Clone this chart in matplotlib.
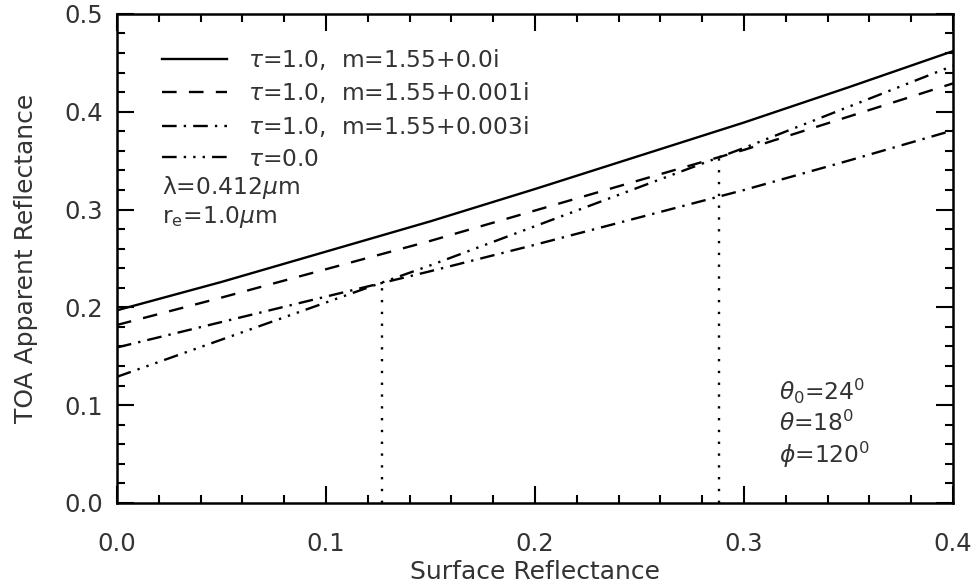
import numpy as np
import matplotlib
matplotlib.use("Agg")
import matplotlib.pyplot as plt

# surface reflectance grid and TOA apparent reflectance
surf = [0.0, 0.05, 0.1, 0.15, 0.2, 0.25, 0.3, 0.35, 0.4]
toa_m0 = [0.197, 0.226, 0.257, 0.288, 0.321, 0.355, 0.389, 0.425, 0.462]
toa_m001 = [0.182, 0.210, 0.239, 0.268, 0.299, 0.330, 0.361, 0.395, 0.429]
toa_m003 = [0.159, 0.185, 0.211, 0.237, 0.264, 0.292, 0.320, 0.350, 0.381]
toa_tau0 = [0.129, 0.167, 0.205, 0.243, 0.283, 0.323, 0.363, 0.405, 0.447]

# critical surface reflectance (crossing points)
cross_x = [0.127, 0.288]
cross_y = [0.225, 0.353]

labels = [r'$\tau$=1.0,  m=1.55+0.0i',
          r'$\tau$=1.0,  m=1.55+0.001i',
          r'$\tau$=1.0,  m=1.55+0.003i',
          r'$\tau$=0.0']

plt.rcParams['font.family'] = ['DejaVu Sans']
plt.rcParams['mathtext.fontset'] = 'dejavusans'
txt = '#333333'

fig = plt.figure(figsize=(9.79, 5.85), dpi=100)
ax = fig.add_axes([0.1195, 0.1402, 0.854, 0.836])

lw = 1.7
ax.plot(surf, toa_m0, color='black', lw=lw, linestyle='-', label=labels[0])
ax.plot(surf, toa_m001, color='black', lw=lw, linestyle=(0, (6.2, 5.2)), label=labels[1])
ax.plot(surf, toa_m003, color='black', lw=lw, linestyle=(0, (6.2, 3, 1, 3)), label=labels[2])
ax.plot(surf, toa_tau0, color='black', lw=lw, linestyle=(0, (6.2, 3, 1, 3, 1, 3, 1, 3)), label=labels[3])

ax.vlines(cross_x, 0, cross_y, colors='black', lw=1.7, linestyles=(0, (1, 4)))

ax.set_xlim(0, 0.4)
ax.set_ylim(0, 0.5)
ax.set_xticks(np.arange(0, 0.41, 0.1))
ax.set_yticks(np.arange(0, 0.51, 0.1))
ax.set_xticks(np.arange(0, 0.401, 0.02), minor=True)
ax.set_yticks(np.arange(0, 0.501, 0.02), minor=True)
ax.xaxis.set_major_formatter(matplotlib.ticker.FormatStrFormatter('%.1f'))
ax.yaxis.set_major_formatter(matplotlib.ticker.FormatStrFormatter('%.1f'))
ax.tick_params(which='both', direction='in', top=True, right=True, width=1.5, colors='black',
               labelcolor=txt, labelsize=17.5)
ax.tick_params(which='major', length=12)
ax.tick_params(which='minor', length=6)
ax.tick_params(axis='x', which='major', pad=21)
ax.tick_params(axis='y', which='major', pad=10)
for s in ax.spines.values():
    s.set_linewidth(1.8)

ax.set_xlabel('Surface Reflectance', fontsize=18, color=txt, labelpad=3)
ax.set_ylabel('TOA Apparent Reflectance', fontsize=18, color=txt, labelpad=19)

leg = ax.legend(loc='upper left', bbox_to_anchor=(0.054, 0.933), frameon=False, fontsize=16.8,
                handlelength=2.79, handletextpad=0.9, labelspacing=0.37, borderpad=0,
                borderaxespad=0)
for t in leg.get_texts():
    t.set_color(txt)

ax.text(0.054, 0.646, r'λ=0.412$\mu$m', transform=ax.transAxes, fontsize=16.8, color=txt, va='center')
ax.text(0.054, 0.585, r'r$_{\rm e}$=1.0$\mu$m', transform=ax.transAxes, fontsize=16.8, color=txt, va='center')

ax.text(0.792, 0.229, r'$\theta_0$=24$^0$', transform=ax.transAxes, fontsize=16.8, color=txt, va='center')
ax.text(0.792, 0.162, r'$\theta$=18$^0$', transform=ax.transAxes, fontsize=16.8, color=txt, va='center')
ax.text(0.792, 0.098, r'$\phi$=120$^0$', transform=ax.transAxes, fontsize=16.8, color=txt, va='center')

fig.savefig('out.png', dpi=100)
